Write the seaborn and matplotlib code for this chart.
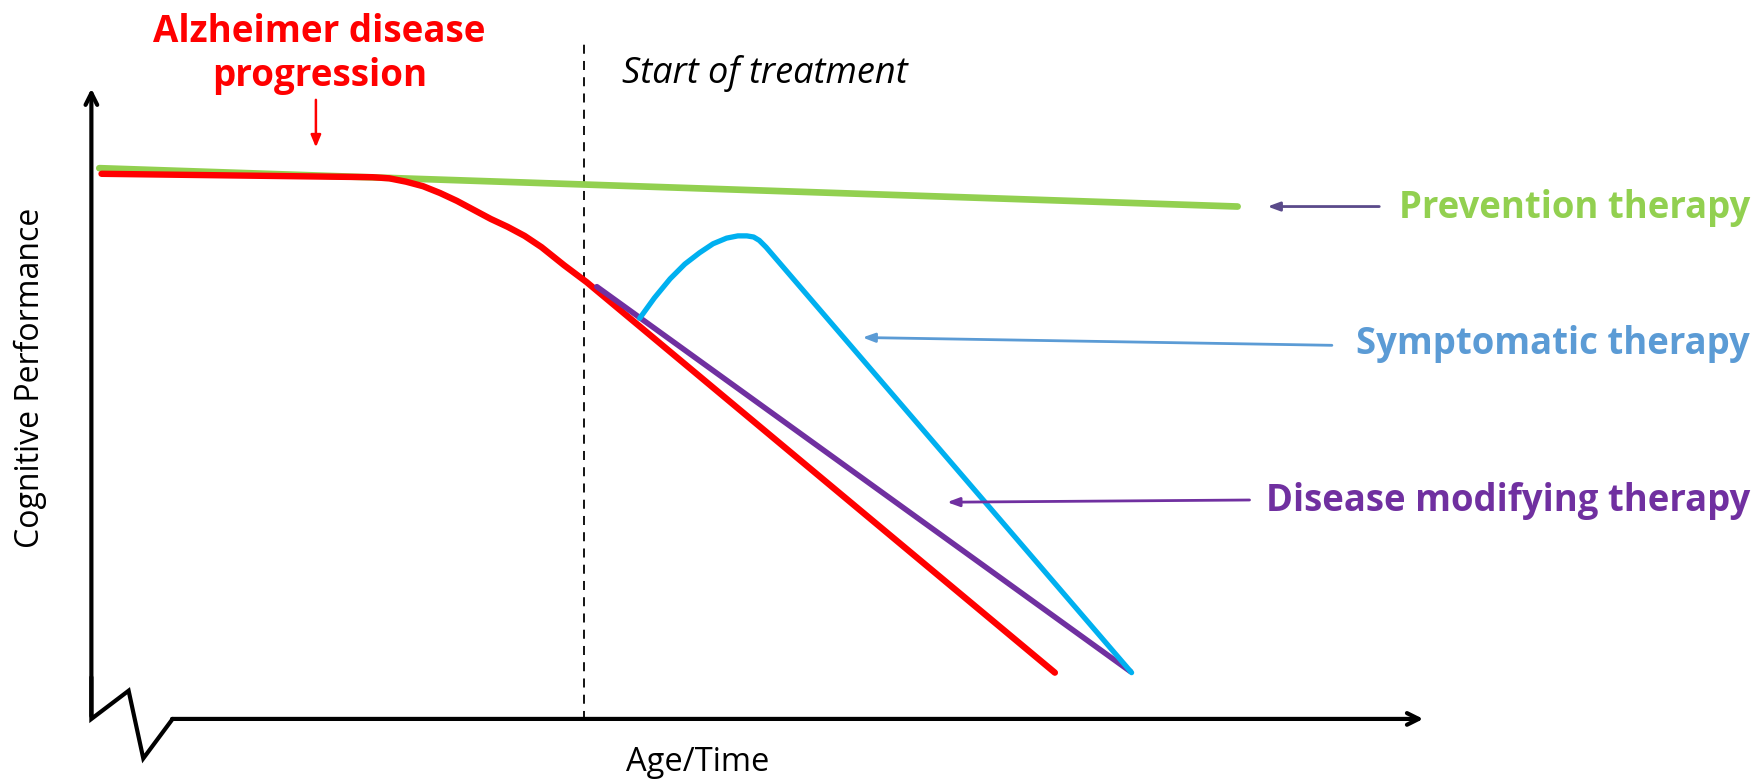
import numpy as np
import pandas as pd
import matplotlib.pyplot as plt
import seaborn as sns

# schematic curves
# x = age/time, y = distance from top of the picture (so down = worse cognition)
prevention_x = [88, 1097]
prevention_y = [149, 183]

alzheimer_x = [90, 330, 345, 360, 375, 390, 405, 420, 435, 450, 465, 480, 500, 520, 935]
alzheimer_y = [154, 157, 158, 161, 165, 171, 178, 186, 194, 201, 209, 219, 235, 250, 596]

modifying_x = [529, 1002]
modifying_y = [254, 595]

symptomatic_x = [567, 580, 594, 607, 620, 632, 644, 654, 662, 668, 673, 679, 1003]
symptomatic_y = [282, 264, 247, 234, 224, 216, 211, 209, 209, 210, 213, 219, 596]

labels = ["Prevention therapy", "Symptomatic therapy", "Disease modifying therapy"]
label_colors = ["#92D050", "#5B9BD5", "#7030A0"]
arrow_colors = ["#5A4A8A", "#5B9BD5", "#7030A0"]

sns.set_theme(style="white")
plt.rcParams['font.family'] = ['Open Sans', 'DejaVu Sans']

fig = plt.figure(figsize=(17.6, 7.81), dpi=100)
ax = fig.add_axes([0, 0, 1, 1])
ax.set_xlim(0, 1560)
ax.set_ylim(692, 0)
ax.axis('off')

# axes drawn by hand with a break at the origin
ax.annotate('', xy=(81, 76), xytext=(81, 637),
            arrowprops=dict(arrowstyle='->,head_length=0.7,head_width=0.35', lw=3, color='black'))
ax.annotate('', xy=(1264, 637), xytext=(150, 637),
            arrowprops=dict(arrowstyle='->,head_length=0.7,head_width=0.35', lw=3, color='black'))
ax.plot([81, 81, 114, 127, 153], [600, 637, 612, 672, 637], color='black', lw=3,
        solid_joinstyle='miter')

# start of treatment
ax.axvline(518, ymin=1 - 638 / 692, ymax=1 - 35 / 692, color='black', lw=1.3, ls=(0, (5, 4)))

sns.lineplot(x=prevention_x, y=prevention_y, color='#92D050', lw=4.8, ax=ax)
sns.lineplot(x=alzheimer_x, y=alzheimer_y, color='#FF0000', lw=4.6, ax=ax, sort=False)
sns.lineplot(x=modifying_x, y=modifying_y, color='#7030A0', lw=4.0, ax=ax)
sns.lineplot(x=symptomatic_x, y=symptomatic_y, color='#00B0F0', lw=3.8, ax=ax, sort=False)

# text
ax.text(283, 48, "Alzheimer disease\nprogression", color='#FF0000', fontsize=26.5,
        fontweight='bold', ha='center', va='center', linespacing=1.2)
ax.annotate('', xy=(280, 133), xytext=(280, 86),
            arrowprops=dict(arrowstyle='-|>,head_length=0.6,head_width=0.25', lw=1.8, color='#FF0000'))
ax.text(551, 65, "Start of treatment", fontsize=26, style='italic', ha='left', va='center',
        color='black')
ax.text(27, 335, "Cognitive Performance", fontsize=23, rotation=90, ha='center', va='center',
        color='black')
ax.text(618, 676, "Age/Time", fontsize=23.5, ha='center', va='center', color='black')

label_y = [184, 305, 444]
arrow_tail = [(1225, 183), (1183, 306), (1110, 443)]
arrow_head = [(1121, 183), (762, 299), (837, 445)]
for lab, c, ac, ly, t, h in zip(labels, label_colors, arrow_colors, label_y, arrow_tail, arrow_head):
    ax.text(1551, ly, lab, color=c, fontsize=26.3, fontweight='bold', ha='right', va='center')
    ax.annotate('', xy=h, xytext=t,
                arrowprops=dict(arrowstyle='-|>,head_length=0.6,head_width=0.22', lw=2, color=ac))

fig.savefig('out.png', dpi=100)
